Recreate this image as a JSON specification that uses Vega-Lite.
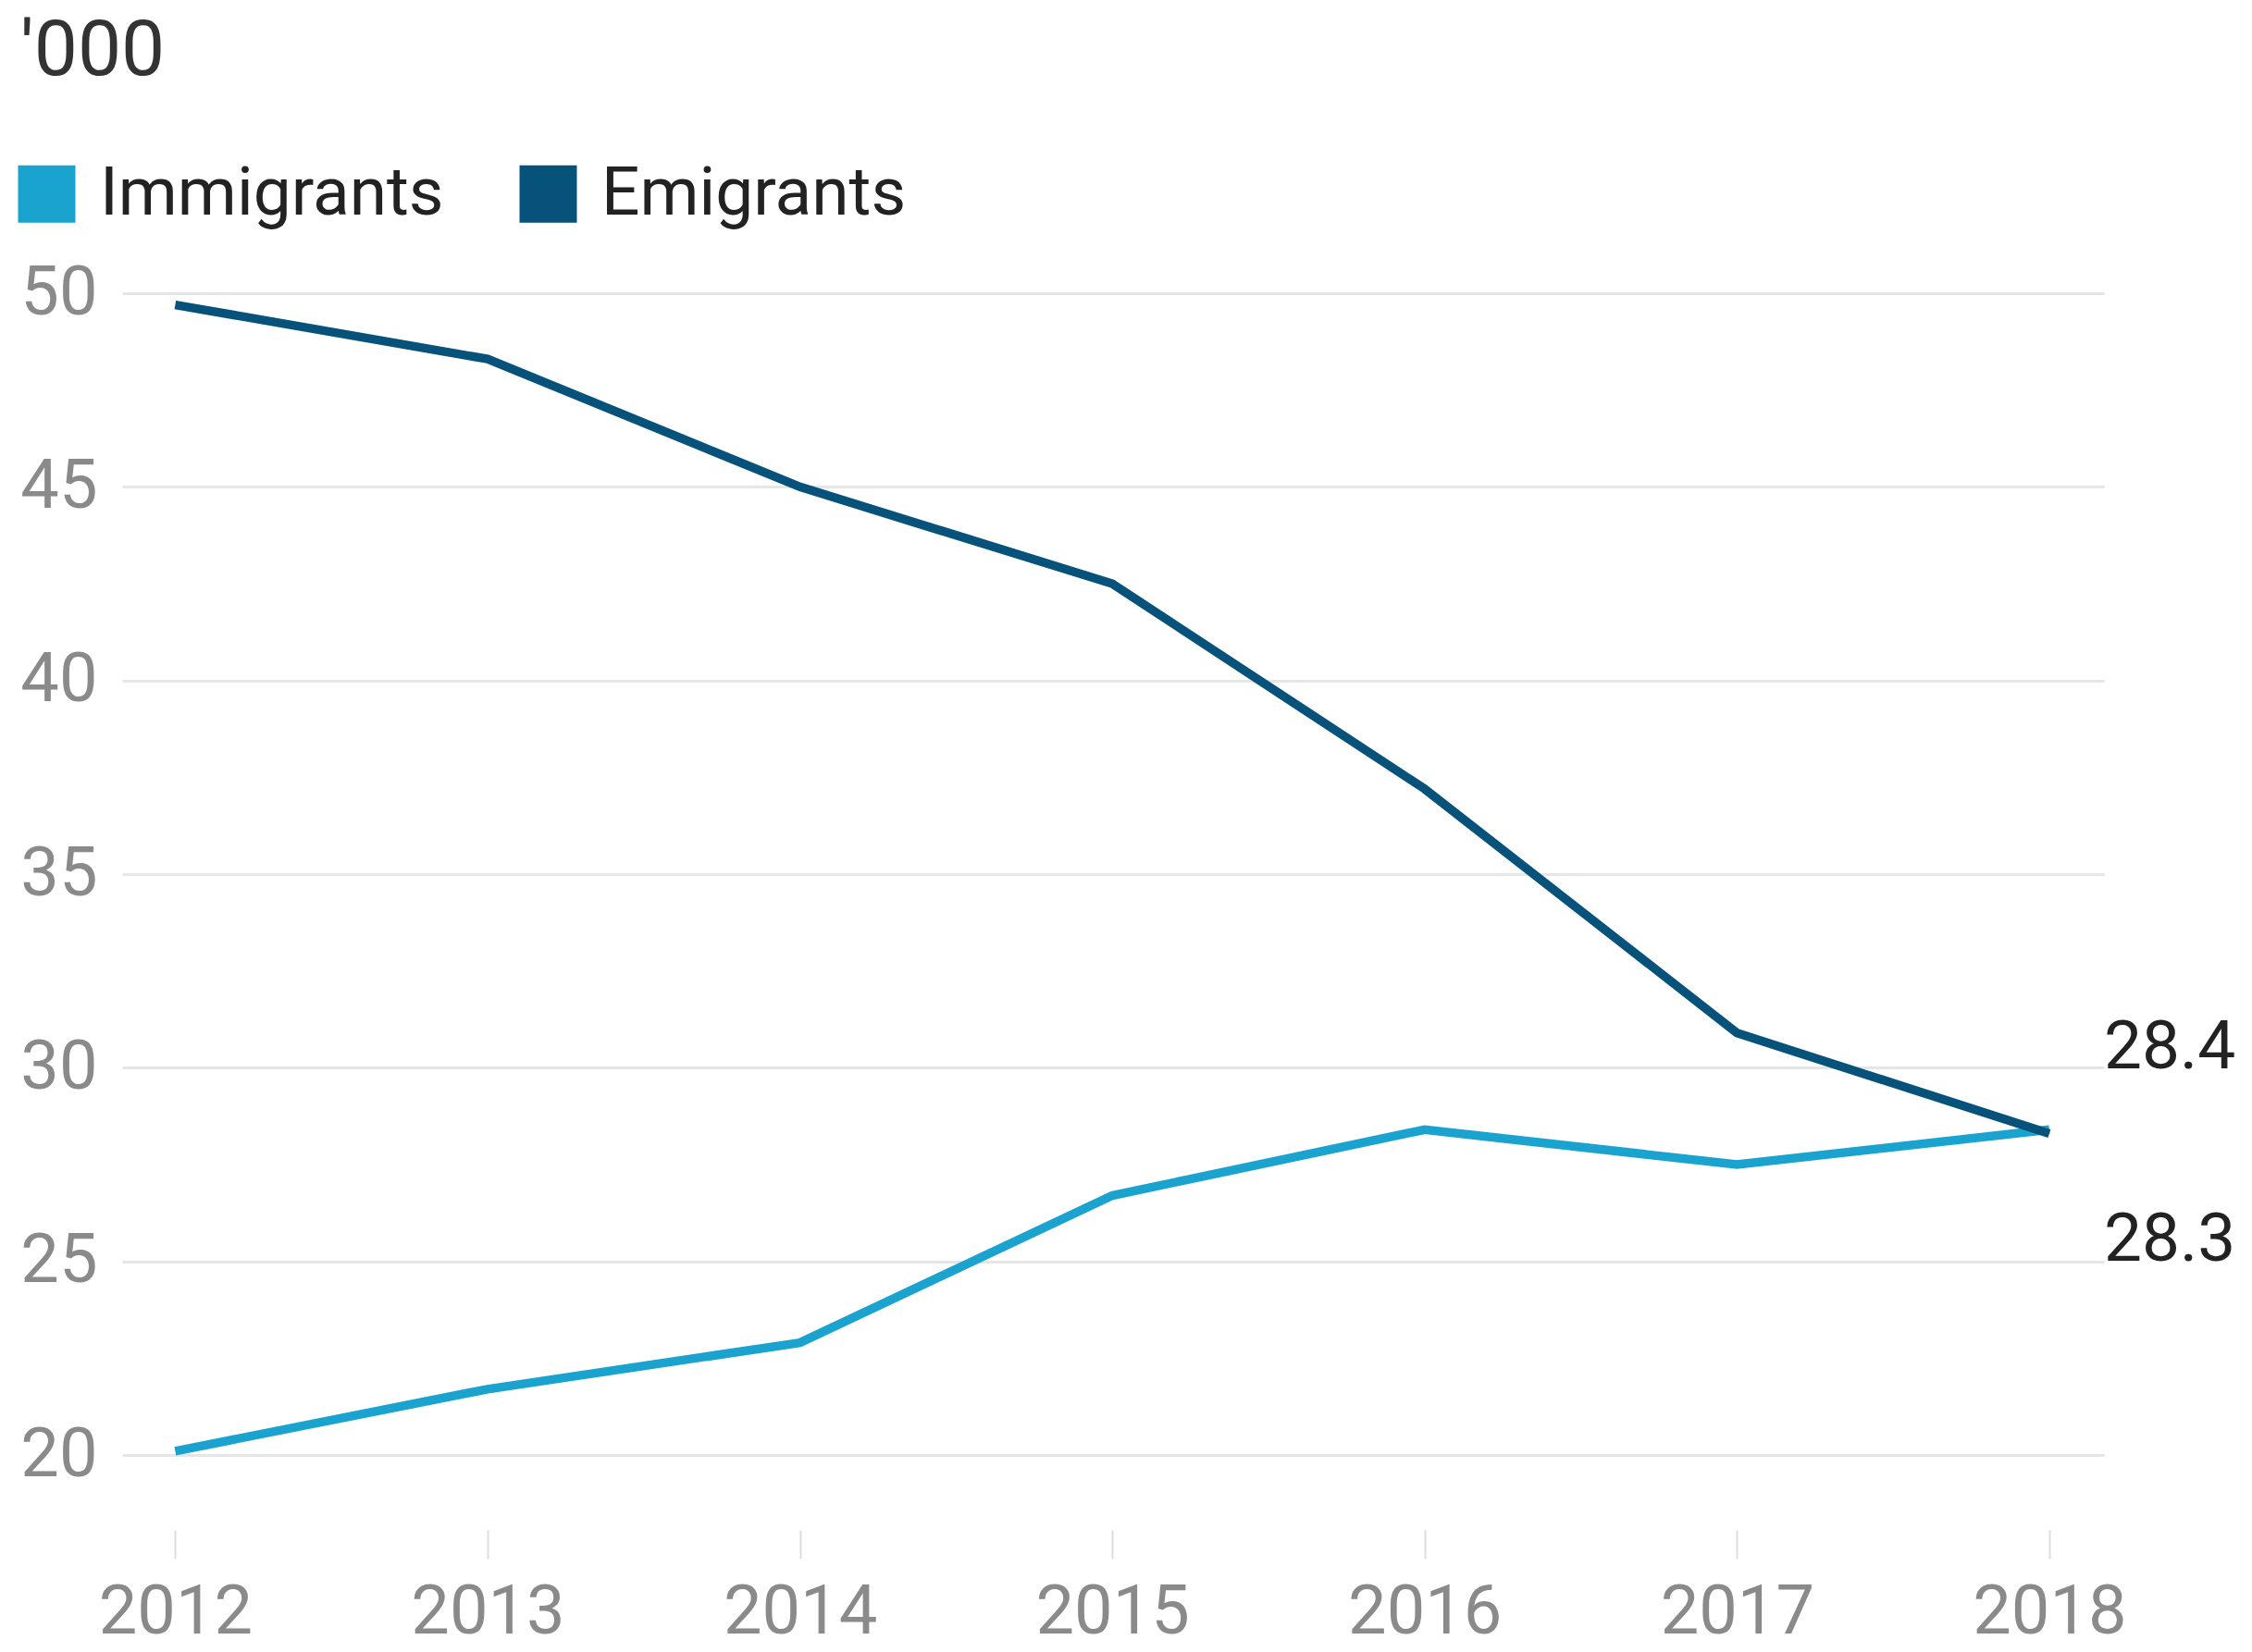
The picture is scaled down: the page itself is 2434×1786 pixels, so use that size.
{
  "$schema": "https://vega.github.io/schema/vega-lite/v6.json",
  "width": 2142,
  "height": 1256,
  "autosize": {"type": "none"},
  "padding": {"left": 132, "top": 317, "right": 160, "bottom": 213},
  "background": "white",
  "title": {
    "text": "'000",
    "anchor": "start",
    "frame": "group",
    "orient": "top",
    "fontSize": 84,
    "font": "Roboto",
    "fontWeight": "normal",
    "color": "#333333",
    "baseline": "alphabetic",
    "offset": 8,
    "dx": -110
  },
  "config": {
    "view": {"stroke": null},
    "font": "Roboto"
  },
  "data": {
    "values": [
      {"year": 2012, "series": "Immigrants", "value": 20.1},
      {"year": 2013, "series": "Immigrants", "value": 21.7},
      {"year": 2014, "series": "Immigrants", "value": 22.9},
      {"year": 2015, "series": "Immigrants", "value": 26.7},
      {"year": 2016, "series": "Immigrants", "value": 28.4},
      {"year": 2017, "series": "Immigrants", "value": 27.5},
      {"year": 2018, "series": "Immigrants", "value": 28.4},
      {"year": 2012, "series": "Emigrants", "value": 49.7},
      {"year": 2013, "series": "Emigrants", "value": 48.3},
      {"year": 2014, "series": "Emigrants", "value": 45.0},
      {"year": 2015, "series": "Emigrants", "value": 42.5},
      {"year": 2016, "series": "Emigrants", "value": 37.2},
      {"year": 2017, "series": "Emigrants", "value": 30.9},
      {"year": 2018, "series": "Emigrants", "value": 28.3}
    ]
  },
  "encoding": {
    "x": {
      "field": "year",
      "type": "quantitative",
      "scale": {"domain": [2011.83, 2018.175], "nice": false, "zero": false},
      "axis": {
        "values": [2012, 2013, 2014, 2015, 2016, 2017, 2018],
        "format": "d",
        "title": null,
        "grid": false,
        "domain": false,
        "offset": 81,
        "tickSize": 31,
        "tickColor": "#dddddd",
        "tickWidth": 2,
        "labelFontSize": 74,
        "labelColor": "#8a8a8a",
        "labelPadding": 22,
        "labelFont": "Roboto"
      }
    },
    "y": {
      "field": "value",
      "type": "quantitative",
      "scale": {"domain": [20, 50], "nice": false, "zero": false},
      "axis": {
        "values": [20, 25, 30, 35, 40, 45, 50],
        "title": null,
        "grid": true,
        "gridColor": "#e6e6e6",
        "gridWidth": 3,
        "ticks": false,
        "domain": false,
        "labelFontSize": 74,
        "labelColor": "#8a8a8a",
        "labelPadding": 27,
        "labelBaseline": "middle",
        "labelFont": "Roboto"
      }
    }
  },
  "layer": [
    {
      "mark": {"type": "line", "strokeWidth": 9.5},
      "encoding": {
        "color": {
          "field": "series",
          "type": "nominal",
          "scale": {"domain": ["Immigrants", "Emigrants"], "range": ["#1ba3d0", "#06527a"]},
          "legend": {
            "title": null,
            "orient": "none",
            "legendX": -118,
            "legendY": -144,
            "direction": "horizontal",
            "symbolType": "square",
            "symbolSize": 3844,
            "symbolStrokeWidth": 0,
            "labelFontSize": 73,
            "labelColor": "#222222",
            "labelFont": "Roboto",
            "labelOffset": 21,
            "columnPadding": 76,
            "padding": 0,
            "labelLimit": 1000,
            "encode": {
              "symbols": {
                "update": {
                  "fill": {"scale": "color", "field": "value"},
                  "strokeWidth": {"value": 0}
                }
              }
            }
          }
        }
      }
    },
    {
      "transform": [{"filter": "datum.year == 2018 && datum.series == 'Immigrants'"}],
      "mark": {"type": "text", "align": "left", "baseline": "middle", "dx": 59, "dy": -88, "fontSize": 73, "font": "Roboto", "color": "#222222"},
      "encoding": {"text": {"field": "value", "type": "quantitative", "format": ".1f"}}
    },
    {
      "transform": [{"filter": "datum.year == 2018 && datum.series == 'Emigrants'"}],
      "mark": {"type": "text", "align": "left", "baseline": "middle", "dx": 59, "dy": 115, "fontSize": 73, "font": "Roboto", "color": "#222222"},
      "encoding": {"text": {"field": "value", "type": "quantitative", "format": ".1f"}}
    }
  ]
}
